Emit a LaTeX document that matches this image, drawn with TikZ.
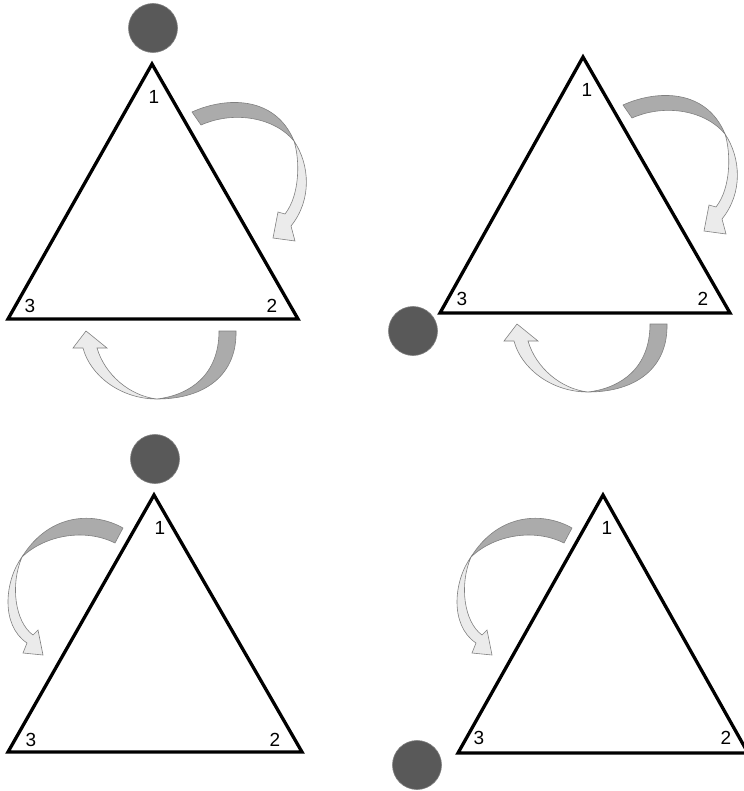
\documentclass[tikz,border=0pt]{standalone}
\usepackage{fontspec}
\setmainfont{Liberation Sans}
\begin{document}
\begin{tikzpicture}[x=1pt,y=-1pt,
  tri/.style={draw=black, line width=3.3pt, line join=miter},
  ball/.style={circle, fill=black!65, draw=black!50, line width=0.6pt, minimum size=49pt, inner sep=0pt},
  num/.style={font=\fontsize{19}{22}\selectfont, inner sep=0pt},
  darkband/.style={fill=black!33, draw=black!50, line width=0.6pt},
  lightband/.style={fill=black!8, draw=black!50, line width=0.6pt}]
\useasboundingbox (0,0) rectangle (743,791);

% ---------- Triangle 1 (top left) ----------
\coordinate (t1a) at (152,64);
\coordinate (t1b) at (298,319);
\coordinate (t1c) at (8,319);
\path[darkband] (192,112) .. controls (225,97) and (275,95) .. (294,141) .. controls (275,118) and (235,110) .. (201,125) -- cycle;
\path[lightband] (294,141) .. controls (310,165) and (312,200) .. (291,226) -- (295,241) -- (273,238) -- (278,212) -- (285,214) .. controls (300,195) and (300,160) .. (294,141) -- cycle;
\path[darkband] (219,331) -- (236,331) .. controls (237,375) and (205,399) .. (157,399) .. controls (190,395) and (219,375) .. (219,331) -- cycle;
\path[lightband] (157,399) .. controls (120,399) and (90,375) .. (83,348) -- (73,348) -- (86,331) -- (107,348) -- (97,348) .. controls (105,375) and (130,396) .. (157,399) -- cycle;
\draw[tri] (t1a) -- (t1b) -- (t1c) -- cycle;
\node[ball] (b1) at (153,28) {};
\node[num] (l11) at (154,97) {1};
\node[num] (l12) at (272,306) {2};
\node[num] (l13) at (30,306) {3};

% ---------- Triangle 2 (top right) ----------
\begin{scope}[shift={(431,-7)}]
\path[darkband] (192,112) .. controls (225,97) and (275,95) .. (294,141) .. controls (275,118) and (235,110) .. (201,125) -- cycle;
\path[lightband] (294,141) .. controls (310,165) and (312,200) .. (291,226) -- (295,241) -- (273,238) -- (278,212) -- (285,214) .. controls (300,195) and (300,160) .. (294,141) -- cycle;
\path[darkband] (219,331) -- (236,331) .. controls (237,375) and (205,399) .. (157,399) .. controls (190,395) and (219,375) .. (219,331) -- cycle;
\path[lightband] (157,399) .. controls (120,399) and (90,375) .. (83,348) -- (73,348) -- (86,331) -- (107,348) -- (97,348) .. controls (105,375) and (130,396) .. (157,399) -- cycle;
\end{scope}
\coordinate (t2a) at (583,57);
\coordinate (t2b) at (730,313);
\coordinate (t2c) at (440,313);
\draw[tri] (t2a) -- (t2b) -- (t2c) -- cycle;
\node[ball] (b2) at (413,331) {};
\node[num] (l21) at (587,90) {1};
\node[num] (l22) at (703,299) {2};
\node[num] (l23) at (462,299) {3};

% ---------- Triangle 3 (bottom left) ----------
\path[darkband] (123,528) .. controls (95,512) and (50,512) .. (22,557) .. controls (45,535) and (85,528) .. (115,543) -- cycle;
\path[lightband] (22,557) .. controls (5,580) and (0,625) .. (27,643) -- (23,653) -- (43,655) -- (38,630) -- (33,635) .. controls (15,622) and (10,585) .. (22,557) -- cycle;
\coordinate (t3a) at (154,495);
\coordinate (t3b) at (302,752);
\coordinate (t3c) at (8,752);
\draw[tri] (t3a) -- (t3b) -- (t3c) -- cycle;
\node[ball] (b3) at (155,459) {};
\node[num] (l31) at (160,528) {1};
\node[num] (l32) at (275,740) {2};
\node[num] (l33) at (31,740) {3};

% ---------- Triangle 4 (bottom right) ----------
\begin{scope}[shift={(449,0)}]
\path[darkband] (123,528) .. controls (95,512) and (50,512) .. (22,557) .. controls (45,535) and (85,528) .. (115,543) -- cycle;
\path[lightband] (22,557) .. controls (5,580) and (0,625) .. (27,643) -- (23,653) -- (43,655) -- (38,630) -- (33,635) .. controls (15,622) and (10,585) .. (22,557) -- cycle;
\end{scope}
\coordinate (t4a) at (603,495);
\coordinate (t4b) at (748,753);
\coordinate (t4c) at (458,753);
\draw[tri] (t4a) -- (t4b) -- (t4c) -- cycle;
\node[ball] (b4) at (417,765) {};
\node[num] (l41) at (607,528) {1};
\node[num] (l42) at (726,738) {2};
\node[num] (l43) at (479,738) {3};
\end{tikzpicture}
\end{document}
